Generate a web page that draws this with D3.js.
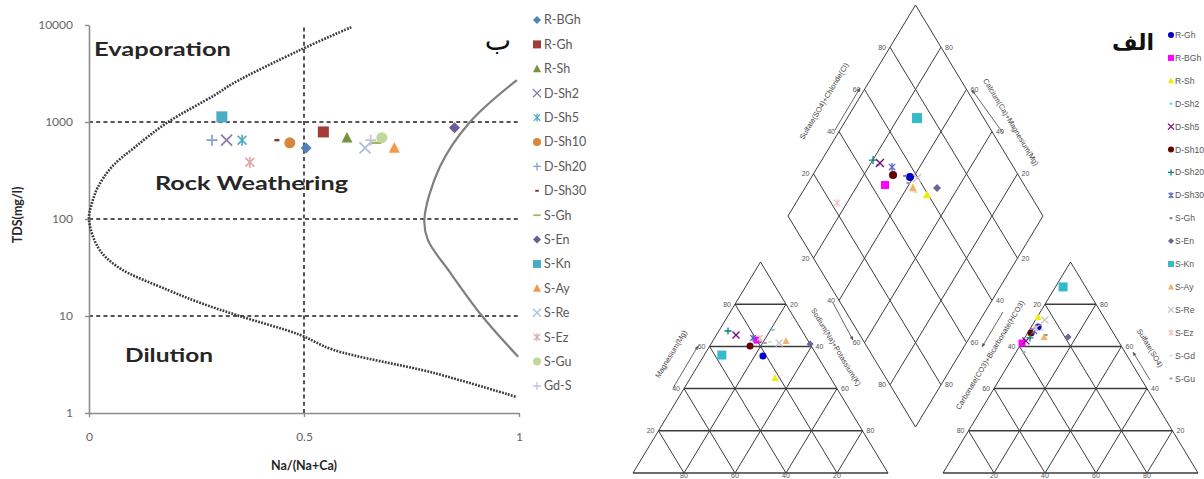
<!DOCTYPE html>
<html><head><meta charset="utf-8">
<script src="https://cdn.jsdelivr.net/npm/d3@7"></script>
<style>body{margin:0;background:#fff}svg{display:block}</style>
</head><body>
<svg id="c" width="1204" height="479"></svg>
<script>
// ---------------- DATA: Gibbs diagram ----------------
const gibbsNames = ["R-BGh","R-Gh","R-Sh","D-Sh2","D-Sh5","D-Sh10","D-Sh20","D-Sh30","S-Gh","S-En","S-Kn","S-Ay","S-Re","S-Ez","S-Gu","Gd-S"];
const gibbsRatio = [0.505,0.545,0.600,0.320,0.356,0.467,0.286,0.437,0.668,0.850,0.309,0.710,0.642,0.374,0.681,0.655];
const gibbsTDS   = [540,790,685,650,650,610,650,650,610,870,1130,540,540,385,690,650];
const gibbsYTicks = [1,10,100,1000,10000];
const gibbsXTicks = [0,0.5,1];
const gibbsRefTDS = [10,100,1000];
const gibbsRefRatio = [0.5];
// boundary curves (Na/(Na+Ca), TDS)
const leftCurveRatio = [0.61,0.49,0.335,0.293,0.184,0.107,0.053,0.021,0.007,0.0,0.021,0.067,0.184,0.26,0.35,0.49,0.567,0.80,0.995];
const leftCurveTDS   = [9500,5500,2500,1900,1000,552,344,214,146,100,51,32,18.5,13.6,10,6.4,4.5,2.6,1.46];
const rightCurveRatio = [0.995,0.886,0.816,0.780,0.788,0.840,0.914,0.998];
const rightCurveTDS   = [2700,1000,345,100,61,28,10,3.8];
const zoneLabels = ["Evaporation","Rock Weathering","Dilution"];

// ---------------- DATA: Piper diagram ----------------
const piperNames = ["R-Gh","R-BGh","R-Sh","D-Sh2","D-Sh5","D-Sh10","D-Sh20","D-Sh30","S-Gh","S-En","S-Kn","S-Ay","S-Re","S-Ez","S-Gd","S-Gu"];
const cationMg  = [55.5,63.0,45.0,67.8,65.4,60.2,67.3,64.0,62.1,61.1,55.9,62.6,61.6,64.0,62.1,61.6];
const cationNaK = [23.2,17.1,33.2,21.0,7.7,15.8,3.6,15.1,18.8,38.9,6.9,28.7,26.5,17.8,22.7,21.0];
const anionSO4  = [69.2,61.6,73.9,57.3,62.6,66.4,64.0,67.3,70.1,64.5,88.2,64.5,72.5,68.7,67.8,65.4];
const anionCl   = [2.7,0.2,0.3,3.1,1.2,1.3,2.1,2.1,2.9,16.8,3.0,7.4,3.7,2.1,4.9,7.7];
const diamondSO4Cl = [57.1,45.4,59.5,47.4,48.6,50.9,46.6,52.4,55.4,65.1,73.8,55.7,59.6,22.3,55.7,54.9];
const diamondCaMg  = [61.4,69.3,50.5,76.8,76.5,68.5,79.9,70.8,63.6,48.2,72.6,57.7,58.4,83.9,55.7,60.7];
const piperTicks = [20,40,60,80];
const piperGrid = [0,20,40,60,80,100];

// ---------------- STYLES ----------------
const gibbsShapes = ["diamond","square","triangle","x","star","circle","plus","dash","longdash","diamond","square","triangle","x","star","circle","plus"];
const gibbsColors = ["#4F81BD","#A33B37","#77933C","#8C7BA6","#4BACC6","#D9853B","#7EA3D1","#8B3A2E","#9BBB59","#6E5A94","#4BACC6","#F79646","#A9BEDC","#E0A9A8","#C4D79B","#C9BEDA"];
const piperShapes = ["circle","square","triangle","dash","x","circle","plus","star","dash","diamond","square","triangle","x","star","dash","dash"];
const piperColors = ["#0000CC","#FF00FF","#EEEE00","#66CCEE","#800080","#660000","#008080","#5566CC","#777777","#666699","#33BBCC","#F2B36B","#C8C8C8","#F0C8C8","#C8E8C8","#999999"];

const svg = d3.select("#c");

function marker(g, shape, x, y, size, color){
  const s = size/2;
  const sw = Math.max(1.3, size/6.5);
  switch(shape){
    case "circle": g.append("circle").attr("cx",x).attr("cy",y).attr("r",s).attr("fill",color); break;
    case "square": g.append("rect").attr("x",x-s).attr("y",y-s).attr("width",size).attr("height",size).attr("fill",color); break;
    case "triangle": g.append("path").attr("d",`M${x},${y-s*1.1}L${x+s},${y+s*0.85}L${x-s},${y+s*0.85}Z`).attr("fill",color); break;
    case "diamond": g.append("path").attr("d",`M${x},${y-s}L${x+s},${y}L${x},${y+s}L${x-s},${y}Z`).attr("fill",color); break;
    case "x": g.append("path").attr("d",`M${x-s},${y-s}L${x+s},${y+s}M${x+s},${y-s}L${x-s},${y+s}`).attr("stroke",color).attr("stroke-width",sw).attr("fill","none"); break;
    case "plus": g.append("path").attr("d",`M${x-s},${y}L${x+s},${y}M${x},${y-s}L${x},${y+s}`).attr("stroke",color).attr("stroke-width",sw).attr("fill","none"); break;
    case "star": g.append("path").attr("d",`M${x-s*0.8},${y-s*0.8}L${x+s*0.8},${y+s*0.8}M${x+s*0.8},${y-s*0.8}L${x-s*0.8},${y+s*0.8}M${x},${y-s}L${x},${y+s}`).attr("stroke",color).attr("stroke-width",sw).attr("fill","none"); break;
    case "dash": g.append("path").attr("d",`M${x-s*0.45},${y}L${x+s*0.45},${y}`).attr("stroke",color).attr("stroke-width",sw*1.5).attr("fill","none"); break;
    case "longdash": g.append("path").attr("d",`M${x-s*0.9},${y}L${x+s*0.9},${y}`).attr("stroke",color).attr("stroke-width",sw*1.4).attr("fill","none"); break;
  }
}

// =============== GIBBS ===============
const gx = d3.scaleLinear().domain([0,1]).range([89,519]);
const gy = d3.scaleLog().domain([1,10000]).range([413,25]);
const G = svg.append("g");

G.selectAll(".hr").data(gibbsRefTDS).join("line")
  .attr("x1",gx(0)).attr("x2",gx(1)).attr("y1",d=>gy(d)).attr("y2",d=>gy(d))
  .attr("stroke","#555").attr("stroke-width",2).attr("stroke-dasharray","4,3.2");
G.selectAll(".vr").data(gibbsRefRatio).join("line")
  .attr("x1",d=>gx(d)).attr("x2",d=>gx(d)).attr("y1",gy(1)).attr("y2",gy(10000))
  .attr("stroke","#555").attr("stroke-width",2).attr("stroke-dasharray","4,3.2");

const yAxis = d3.axisLeft(gy).tickValues(gibbsYTicks).tickFormat(d3.format("d")).tickSizeInner(4).tickSizeOuter(0).tickPadding(12);
const xAxis = d3.axisBottom(gx).tickValues(gibbsXTicks).tickFormat(d3.format("~g")).tickSizeInner(4).tickSizeOuter(0).tickPadding(15);
const ya = G.append("g").attr("transform",`translate(${gx(0)},0)`).call(yAxis);
const xa = G.append("g").attr("transform",`translate(0,${gy(1)})`).call(xAxis);
[ya,xa].forEach(a=>{
  a.select(".domain").attr("stroke","#8c8c8c").attr("stroke-width",1.6);
  a.selectAll(".tick line").attr("stroke","#8c8c8c").attr("stroke-width",1.4);
  a.selectAll(".tick text").attr("font-family","Lato, 'Liberation Sans', sans-serif").attr("font-size",12).attr("fill","#666");
});

const lineGen = d3.line().x(d=>gx(d[0])).y(d=>gy(d[1])).curve(d3.curveCatmullRom.alpha(0.5));
G.append("path").datum(d3.zip(leftCurveRatio,leftCurveTDS)).attr("d",lineGen)
  .attr("fill","none").attr("stroke","#3a3a3a").attr("stroke-width",2.6).attr("stroke-dasharray","1.8,1.3");
G.append("path").datum(d3.zip(rightCurveRatio,rightCurveTDS)).attr("d",lineGen)
  .attr("fill","none").attr("stroke","#7f7f7f").attr("stroke-width",2.2);

const zonePos = [[94,56,137],[155,190,193],[125,362,88]];
zoneLabels.forEach((t,i)=>{
  G.append("text").attr("x",zonePos[i][0]).attr("y",zonePos[i][1]).text(t)
   .attr("font-family","Lato, 'DejaVu Sans', sans-serif").attr("font-weight","bold").attr("font-size",19)
   .attr("fill","#262626").attr("textLength",zonePos[i][2]).attr("lengthAdjust","spacingAndGlyphs");
});

G.append("text").attr("x",304).attr("y",470).attr("text-anchor","middle").text("Na/(Na+Ca)")
  .attr("font-family","Lato, 'DejaVu Sans', sans-serif").attr("font-weight","bold").attr("font-size",12.5).attr("fill","#262626");
G.append("text").attr("transform","translate(22,215) rotate(-90)").attr("text-anchor","middle").text("TDS(mg/l)")
  .attr("font-family","Lato, 'DejaVu Sans', sans-serif").attr("font-weight","bold").attr("font-size",12.5).attr("fill","#262626");

gibbsNames.forEach((n,i)=>{ marker(G, gibbsShapes[i], gx(gibbsRatio[i]), gy(gibbsTDS[i]), 11, gibbsColors[i]); });

gibbsNames.forEach((n,i)=>{
  const y = 20 + i*24.4;
  marker(G, gibbsShapes[i], 537, y, 8, gibbsColors[i]);
  G.append("text").attr("x",544).attr("y",y).attr("dy","0.35em").text(n)
   .attr("font-family","Lato, 'Liberation Sans', sans-serif").attr("font-size",12.5).attr("fill","#595959");
});

svg.append("text").attr("x",498).attr("y",50).attr("text-anchor","middle").text("ب")
  .attr("font-family","'DejaVu Sans', sans-serif").attr("font-size",28).attr("fill","#111");

// =============== PIPER ===============
const Pp = svg.append("g");
const lineC = "#3c3c3c";
const cX = d3.scaleLinear().domain([0,100]).range([633,888]);
const cY = d3.scaleLinear().domain([0,100]).range([473,262]);
const cPt = (na,mg)=>[cX(na+mg/2), cY(mg)];
const aX = d3.scaleLinear().domain([0,100]).range([943,1198]);
const aY = d3.scaleLinear().domain([0,100]).range([473,262]);
const aPt = (cl,so)=>[aX(cl+so/2), aY(so)];
const dX = d3.scaleLinear().domain([-100,100]).range([788,1043]);
const dY = d3.scaleLinear().domain([0,200]).range([427,5]);
const dPt = (camg,socl)=>[dX(socl-camg), dY(camg+socl)];

function seg(p,q,w){ Pp.append("line").attr("x1",p[0]).attr("y1",p[1]).attr("x2",q[0]).attr("y2",q[1]).attr("stroke",lineC).attr("stroke-width",w||1); }

[cPt,aPt].forEach(f=>{
  piperGrid.forEach(k=>{
    if(k<100){
      seg(f(0,k), f(100-k,k), 1.5);
      seg(f(k,0), f(k,100-k), 1);
      seg(f(100-k,0), f(0,100-k), 1);
    }
  });
});
piperGrid.forEach(k=>{
  seg(dPt(k,0), dPt(k,100), 1);
  seg(dPt(0,k), dPt(100,k), 1);
});

const tickFont = "'Liberation Sans', Arial, sans-serif";
function tlabel(x,y,t,anchor){
  Pp.append("text").attr("x",x).attr("y",y).attr("dy","0.35em").attr("text-anchor",anchor).text(t)
    .attr("font-family",tickFont).attr("font-size",7).attr("fill","#555");
}
piperTicks.forEach(k=>{
  let p = cPt(0,k); tlabel(p[0]-4,p[1],k,"end");
  p = cPt(100-k,k); tlabel(p[0]+4,p[1],100-k,"start");
  p = cPt(k,0); tlabel(p[0],p[1]+2.5,100-k,"middle");
  p = aPt(0,k); tlabel(p[0]-4,p[1],100-k,"end");
  p = aPt(100-k,k); tlabel(p[0]+4,p[1],k,"start");
  p = aPt(k,0); tlabel(p[0],p[1]+2.5,k,"middle");
  p = dPt(100,k); tlabel(p[0]-4,p[1],k,"end");
  p = dPt(k,100); tlabel(p[0]+4,p[1],k,"start");
  p = dPt(k,0);   tlabel(p[0]-4,p[1],100-k,"end");
  p = dPt(0,k);   tlabel(p[0]+4,p[1],100-k,"start");
});

const ang = Math.atan2(211,127.5)*180/Math.PI;
const titles = [
  ["Sulfate(SO4)+Chloride(Cl)", 824,101,-ang],
  ["Calcium(Ca)+Magnesium(Mg)", 1011,122, ang],
  ["Magnesium(Mg)", 671,354,-ang],
  ["Sodium(Na)+Potassium(K)", 836,347, ang],
  ["Carbonate(CO3)+Bicarbonate(HCO3)", 990,355,-ang],
  ["Sulfate(SO4)", 1150,348, ang]
];
titles.forEach(t=>{
  Pp.append("text").attr("transform",`translate(${t[1]},${t[2]}) rotate(${t[3]})`).attr("text-anchor","middle").attr("dy","0.35em")
    .text(t[0]).attr("font-family",tickFont).attr("font-size",7.5).attr("fill","#444");
});
const arrows = [[835,130,860,88],[1003,133,972,90],[673,388,698,346],[833,303,853,340],[1003,312,982,347],[1150,380,1133,352]];
arrows.forEach(a=>{
  Pp.append("line").attr("x1",a[0]).attr("y1",a[1]).attr("x2",a[2]).attr("y2",a[3]).attr("stroke","#555").attr("stroke-width",0.9);
  const th = Math.atan2(a[3]-a[1],a[2]-a[0]);
  const hx = a[2], hy = a[3], L=4;
  Pp.append("path").attr("d",`M${hx},${hy}L${hx-L*Math.cos(th-0.45)},${hy-L*Math.sin(th-0.45)}L${hx-L*Math.cos(th+0.45)},${hy-L*Math.sin(th+0.45)}Z`).attr("fill","#555");
});

piperNames.forEach((n,i)=>{
  const sz = n==="S-Kn" ? 9 : 7;
  let p = cPt(cationNaK[i], cationMg[i]); marker(Pp, piperShapes[i], p[0], p[1], sz, piperColors[i]);
  p = aPt(anionCl[i], anionSO4[i]);       marker(Pp, piperShapes[i], p[0], p[1], sz, piperColors[i]);
  p = dPt(diamondCaMg[i], diamondSO4Cl[i]); marker(Pp, piperShapes[i], p[0], p[1], n==="S-Kn"?10:8, piperColors[i]);
});

piperNames.forEach((n,i)=>{
  const y = 35 + i*22.9;
  marker(Pp, piperShapes[i], 1171, y, 6, piperColors[i]);
  Pp.append("text").attr("x",1175).attr("y",y).attr("dy","0.35em").text(n)
    .attr("font-family",tickFont).attr("font-size",8.6).attr("fill","#555");
});

svg.append("text").attr("x",1133).attr("y",50).attr("text-anchor","middle").text("الف")
  .attr("font-family","'DejaVu Sans', sans-serif").attr("font-weight","bold").attr("font-size",22).attr("fill","#111");
</script>
</body></html>
